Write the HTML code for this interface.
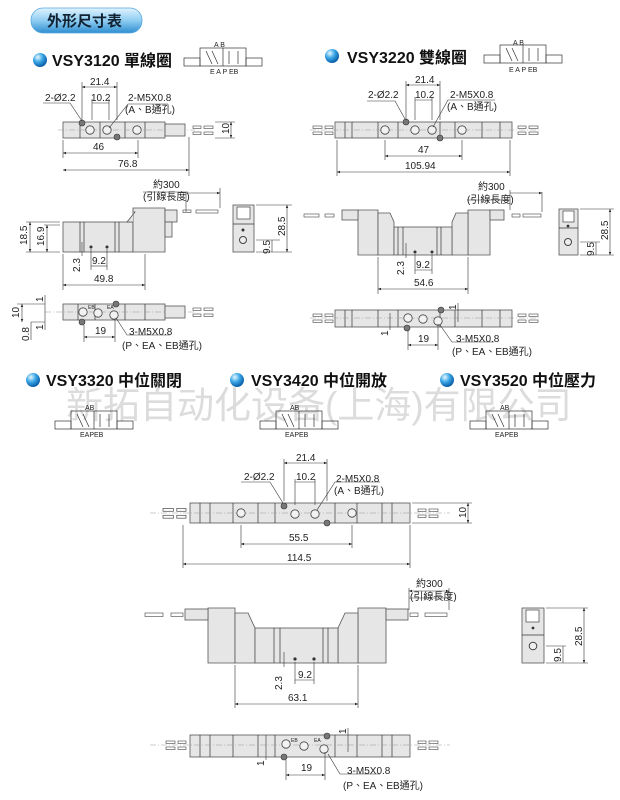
<!DOCTYPE html>
<html><head><meta charset="utf-8">
<style>
html,body{margin:0;padding:0;background:#fff;width:620px;height:800px;overflow:hidden}
svg{display:block}
text{font-family:"Liberation Sans","Noto Sans CJK TC",sans-serif;fill:#222}
.t{font-size:10px}
.h{font-size:16px;font-weight:bold;fill:#111}
.s{font-size:7px}
.b{fill:#e6e6e6;stroke:#555;stroke-width:.8}
.l{stroke:#333;stroke-width:.7;fill:none}
.d{stroke:#333;stroke-width:.6;fill:none}
.c{stroke:#999;stroke-width:.5;stroke-dasharray:6 2 1 2;fill:none}
</style></head><body>
<svg width="620" height="800" viewBox="0 0 620 800" xmlns="http://www.w3.org/2000/svg">
<defs>
<radialGradient id="ball" cx="35%" cy="30%" r="70%"><stop offset="0" stop-color="#e8f8ff"/><stop offset=".5" stop-color="#3aa6e6"/><stop offset="1" stop-color="#0b5fa8"/></radialGradient>
<linearGradient id="pill" x1="0" y1="0" x2="0" y2="1"><stop offset="0" stop-color="#dff2ff"/><stop offset=".5" stop-color="#8fcdf2"/><stop offset="1" stop-color="#2f8fd0"/></linearGradient>
<marker id="a" markerWidth="6" markerHeight="6" refX="5" refY="3" orient="auto-start-reverse"><path d="M0,1 L5,3 L0,5z" fill="#222"/></marker>
<g id="port"><circle r="4.2" fill="#f2f2f2" stroke="#444" stroke-width=".8"/></g>
<g id="pin"><circle r="3" fill="#777" stroke="#333" stroke-width=".6"/></g>
<g id="wireR"><rect x="0" y="-4" width="8" height="2.5" fill="#fff" stroke="#444" stroke-width=".6"/><rect x="11" y="-4" width="9" height="2.5" fill="#fff" stroke="#444" stroke-width=".6"/><rect x="0" y="2" width="8" height="2.5" fill="#fff" stroke="#444" stroke-width=".6"/><rect x="11" y="2" width="9" height="2.5" fill="#fff" stroke="#444" stroke-width=".6"/></g>
<g id="sym">
<rect x="0" y="10" width="16" height="8" class="l"/><rect x="16" y="0" width="46" height="18" class="l"/><rect x="62" y="10" width="16" height="8" class="l"/>
<line x1="39" y1="0" x2="39" y2="18" class="l"/><path d="M22,3 L28,16 M28,3 L34,16 M45,3 L45,16 M54,16 L54,3" class="l"/>
</g>
</defs>

<rect x="31" y="8" width="111" height="25" rx="12" fill="url(#pill)" stroke="#5aa9de" stroke-width=".8"/>
<text x="47" y="26" style="font-size:15px;font-weight:bold;fill:#123">外形尺寸表</text>

<text x="66" y="418" style="font-size:37px;fill:#dcdcdc;font-family:'Liberation Sans','Noto Sans CJK SC',sans-serif">新拓自动化设备(上海)有限公司</text>

<circle cx="40" cy="60" r="7" fill="url(#ball)"/>
<text x="52" y="66" class="h">VSY3120  單線圈</text>
<use href="#sym" x="184" y="48"/>
<text x="214" y="47" class="s">A B</text><text x="210" y="74" class="s">E A P EB</text>

<circle cx="332" cy="56" r="7" fill="url(#ball)"/>
<text x="347" y="63" class="h">VSY3220  雙線圈</text>
<use href="#sym" x="484" y="45"/>
<text x="513" y="45" class="s">A B</text><text x="509" y="72" class="s">E A P EB</text>

<circle cx="33" cy="380" r="7" fill="url(#ball)"/>
<text x="46" y="386" class="h">VSY3320  中位關閉</text>
<circle cx="237" cy="380" r="7" fill="url(#ball)"/>
<text x="251" y="386" class="h">VSY3420  中位開放</text>
<circle cx="447" cy="380" r="7" fill="url(#ball)"/>
<text x="460" y="386" class="h">VSY3520  中位壓力</text>
<g><use href="#sym" x="55" y="411"/><text x="85" y="410" class="s">AB</text><text x="80" y="437" class="s">EAPEB</text></g>
<g><use href="#sym" x="260" y="411"/><text x="290" y="410" class="s">AB</text><text x="285" y="437" class="s">EAPEB</text></g>
<g><use href="#sym" x="470" y="411"/><text x="500" y="410" class="s">AB</text><text x="495" y="437" class="s">EAPEB</text></g>

<rect x="63" y="122" width="102" height="16" class="b"/>
<path d="M80,122V138M100,122V138M125,122V138M145,122V138" class="l"/>
<line x1="58" y1="130" x2="195" y2="130" class="c"/>
<use href="#port" x="90" y="130"/><use href="#port" x="107" y="130"/><use href="#port" x="137" y="130"/>
<use href="#pin" x="82" y="123"/><use href="#pin" x="117" y="137"/>
<rect x="165" y="124" width="20" height="12" class="b"/>
<use href="#wireR" x="193" y="130"/>
<path d="M82,120V82M117,120V82" class="d"/><line x1="82" y1="87" x2="117" y2="87" class="d" marker-start="url(#a)" marker-end="url(#a)"/><text x="90" y="85" class="t">21.4</text>
<path d="M92,120V99M109,120V99" class="d"/><line x1="92" y1="103" x2="109" y2="103" class="d"/><text x="91" y="101" class="t">10.2</text>
<path d="M43,103H70L82,121" class="d"/><text x="45" y="101" class="t">2-Ø2.2</text>
<path d="M168,104H128L109,128" class="d"/><text x="128" y="101" class="t">2-M5X0.8</text><text x="125" y="113" class="t">(A、B通孔)</text>
<path d="M63,140V158M138,140V158M189,137V176" class="d"/>
<line x1="63" y1="153" x2="138" y2="153" class="d" marker-start="url(#a)" marker-end="url(#a)"/><text x="93" y="150" class="t">46</text>
<line x1="63" y1="170" x2="189" y2="170" class="d" marker-start="url(#a)" marker-end="url(#a)"/><text x="118" y="167" class="t">76.8</text>
<path d="M215,122H235M215,138H235" class="d"/><line x1="231" y1="122" x2="231" y2="138" class="d" marker-start="url(#a)" marker-end="url(#a)"/><text transform="translate(229,134) rotate(-90)" class="t">10</text>

<rect x="63" y="222" width="70" height="30" class="b"/>
<path d="M133,252V208H165V252Z" class="b"/>
<path d="M133,212H135L127,222H133" class="b"/>
<path d="M80,222V252M84,222V252M115,222V252M119,222V252" class="l"/>
<rect x="165" y="210" width="12" height="12" class="b"/><rect x="165" y="222" width="7" height="15" class="b"/>
<circle cx="91" cy="247" r="1.5" fill="#333"/><circle cx="107" cy="247" r="1.5" fill="#333"/>
<rect x="183" y="210" width="8" height="2.5" fill="#fff" stroke="#444" stroke-width=".6"/><rect x="196" y="210" width="22" height="3" fill="#fff" stroke="#444" stroke-width=".6"/>
<path d="M143,192H188M220,188V208M186,193V212" class="d"/><line x1="186" y1="193" x2="220" y2="193" class="d" marker-end="url(#a)"/>
<text x="153" y="188" class="t">約300</text><text x="143" y="200" class="t">(引線長度)</text>
<path d="M60,222H26M60,225H44M26,252H60" class="d"/>
<line x1="30" y1="222" x2="30" y2="252" class="d" marker-start="url(#a)" marker-end="url(#a)"/><text transform="translate(27,245) rotate(-90)" class="t">18.5</text>
<line x1="47" y1="225" x2="47" y2="252" class="d" marker-start="url(#a)" marker-end="url(#a)"/><text transform="translate(44,246) rotate(-90)" class="t">16.9</text>
<path d="M63,254V290M145,254V290M91,249V270M107,249V270" class="d"/>
<line x1="91" y1="266" x2="107" y2="266" class="d"/><text x="92" y="264" class="t">9.2</text>
<line x1="82" y1="242" x2="82" y2="256" class="d"/><text transform="translate(80,272) rotate(-90)" class="t">2.3</text>
<line x1="63" y1="285" x2="145" y2="285" class="d" marker-start="url(#a)" marker-end="url(#a)"/><text x="94" y="282" class="t">49.8</text>
<rect x="233" y="205" width="21" height="47" class="b"/><rect x="237" y="207" width="13" height="12" fill="#fff" stroke="#444" stroke-width=".7"/>
<line x1="233" y1="224" x2="254" y2="224" class="l"/><circle cx="243" cy="230" r="1.5" fill="#333"/><circle cx="243" cy="240" r="3.5" fill="#eee" stroke="#444"/>
<path d="M256,205H292M256,240H280M256,252H292" class="d"/>
<line x1="287" y1="205" x2="287" y2="252" class="d" marker-start="url(#a)" marker-end="url(#a)"/><text transform="translate(285,236) rotate(-90)" class="t">28.5</text>
<line x1="272" y1="240" x2="272" y2="252" class="d"/><text transform="translate(270,254) rotate(-90)" class="t">9.5</text>
<rect x="63" y="304" width="102" height="16" class="b"/>
<path d="M78,304V320M95,304V320M125,304V320M145,304V320" class="l"/>
<line x1="45" y1="312" x2="195" y2="312" class="c"/>
<use href="#port" x="83" y="312"/><use href="#port" x="98" y="313"/><use href="#port" x="114" y="315"/>
<use href="#pin" x="82" y="322"/><use href="#pin" x="116" y="304"/>
<text x="88" y="309" class="s" style="font-size:5px">EB</text><text x="107" y="309" class="s" style="font-size:5px">EA</text>
<rect x="165" y="306" width="20" height="12" class="b"/><use href="#wireR" x="193" y="312"/>
<path d="M17,304H45M31,322H45" class="d"/><line x1="22" y1="304" x2="22" y2="322" class="d" marker-start="url(#a)" marker-end="url(#a)"/><text transform="translate(19,318) rotate(-90)" class="t">10</text>
<line x1="31" y1="322" x2="31" y2="340" class="d"/><text transform="translate(29,341) rotate(-90)" class="t">0.8</text>
<line x1="45" y1="295" x2="45" y2="330" class="d"/><text transform="translate(43,302) rotate(-90)" class="t">1</text><text transform="translate(43,330) rotate(-90)" class="t">1</text>
<path d="M84,325V342M115,320V342" class="d"/><line x1="84" y1="337" x2="115" y2="337" class="d" marker-start="url(#a)" marker-end="url(#a)"/><text x="95" y="334" class="t">19</text>
<path d="M116,318L127,335H170" class="d"/><text x="129" y="335" class="t">3-M5X0.8</text><text x="122" y="349" class="t">(P、EA、EB通孔)</text>

<rect x="335" y="122" width="177" height="16" class="b"/>
<path d="M345,122V138M352,122V138M378,122V138M398,122V138M440,122V138M455,122V138M482,122V138M500,122V138" class="l"/>
<line x1="310" y1="130" x2="540" y2="130" class="c"/>
<use href="#port" x="385" y="130"/><use href="#port" x="415" y="130"/><use href="#port" x="432" y="130"/><use href="#port" x="462" y="130"/>
<use href="#pin" x="406" y="122"/><use href="#pin" x="440" y="138"/>
<g transform="translate(333,130) scale(-1,1)"><use href="#wireR"/></g><use href="#wireR" x="518" y="130"/>
<path d="M406,120V81M440,120V81" class="d"/><line x1="406" y1="85" x2="440" y2="85" class="d" marker-start="url(#a)" marker-end="url(#a)"/><text x="415" y="83" class="t">21.4</text>
<path d="M415,120V97M432,120V97" class="d"/><line x1="415" y1="100" x2="432" y2="100" class="d"/><text x="415" y="98" class="t">10.2</text>
<path d="M367,101H395L405,119" class="d"/><text x="368" y="98" class="t">2-Ø2.2</text>
<path d="M495,100H448L433,127" class="d"/><text x="450" y="98" class="t">2-M5X0.8</text><text x="447" y="110" class="t">(A、B通孔)</text>
<path d="M385,140V160M462,140V160M337,140V176M510,140V176" class="d"/>
<line x1="385" y1="156" x2="462" y2="156" class="d" marker-start="url(#a)" marker-end="url(#a)"/><text x="418" y="153" class="t">47</text>
<line x1="337" y1="172" x2="510" y2="172" class="d" marker-start="url(#a)" marker-end="url(#a)"/><text x="405" y="169" class="t">105.94</text>
<path d="M358,210H378V255H358Z" class="b"/><path d="M468,210H490V255H468Z" class="b"/>
<path d="M378,213H390L394,222V255H378Z" class="b"/><path d="M468,213H456L452,222V255H468Z" class="b"/>
<rect x="394" y="227" width="58" height="28" class="b"/>
<path d="M398,227V255M403,227V255M437,227V255M441,227V255" class="l"/>
<circle cx="415" cy="252" r="1.5" fill="#333"/><circle cx="432" cy="252" r="1.5" fill="#333"/>
<rect x="342" y="210" width="16" height="10" class="b"/><rect x="490" y="210" width="14" height="10" class="b"/>
<rect x="304" y="214" width="15" height="3" fill="#fff" stroke="#444" stroke-width=".6"/><rect x="325" y="214" width="9" height="3" fill="#fff" stroke="#444" stroke-width=".6"/>
<rect x="512" y="214" width="8" height="3" fill="#fff" stroke="#444" stroke-width=".6"/><rect x="523" y="214" width="18" height="3" fill="#fff" stroke="#444" stroke-width=".6"/>
<path d="M467,200H510M542,192V212M510,190V210" class="d"/><line x1="510" y1="193" x2="542" y2="193" class="d" marker-end="url(#a)"/>
<text x="478" y="190" class="t">約300</text><text x="467" y="203" class="t">(引線長度)</text>
<path d="M378,257V294M468,257V294M415,254V274M432,254V274" class="d"/>
<line x1="415" y1="270" x2="432" y2="270" class="d"/><text x="416" y="268" class="t">9.2</text>
<line x1="406" y1="243" x2="406" y2="258" class="d"/><text transform="translate(404,275) rotate(-90)" class="t">2.3</text>
<line x1="378" y1="289" x2="468" y2="289" class="d" marker-start="url(#a)" marker-end="url(#a)"/><text x="414" y="286" class="t">54.6</text>
<rect x="559" y="209" width="19" height="46" class="b"/><rect x="563" y="211" width="11" height="11" fill="#fff" stroke="#444" stroke-width=".7"/>
<line x1="559" y1="228" x2="578" y2="228" class="l"/><circle cx="568" cy="226" r="1.4" fill="#333"/><circle cx="568" cy="242" r="3.5" fill="#eee" stroke="#444"/>
<path d="M580,209H614M580,242H600M580,255H614" class="d"/>
<line x1="610" y1="209" x2="610" y2="255" class="d" marker-start="url(#a)" marker-end="url(#a)"/><text transform="translate(608,240) rotate(-90)" class="t">28.5</text>
<line x1="596" y1="242" x2="596" y2="255" class="d"/><text transform="translate(594,256) rotate(-90)" class="t">9.5</text>
<rect x="335" y="310" width="177" height="17" class="b"/>
<path d="M345,310V327M352,310V327M378,310V327M398,310V327M440,310V327M455,310V327M482,310V327M500,310V327" class="l"/>
<line x1="310" y1="318" x2="540" y2="318" class="c"/>
<use href="#port" x="408" y="318"/><use href="#port" x="423" y="319"/><use href="#port" x="438" y="321"/>
<use href="#pin" x="407" y="328"/><use href="#pin" x="441" y="310"/>
<g transform="translate(333,318) scale(-1,1)"><use href="#wireR"/></g><use href="#wireR" x="518" y="318"/>
<path d="M408,330V350M438,324V350" class="d"/><line x1="408" y1="345" x2="438" y2="345" class="d" marker-start="url(#a)" marker-end="url(#a)"/><text x="418" y="342" class="t">19</text>
<path d="M440,325L452,342H494" class="d"/><text x="456" y="342" class="t">3-M5X0.8</text><text x="452" y="355" class="t">(P、EA、EB通孔)</text>
<line x1="390" y1="313" x2="390" y2="330" class="d"/><text transform="translate(388,336) rotate(-90)" class="t">1</text>
<line x1="458" y1="303" x2="458" y2="322" class="d"/><text transform="translate(456,310) rotate(-90)" class="t">1</text>

<rect x="190" y="503" width="220" height="20" class="b"/>
<path d="M200,503V523M210,503V523M233,503V523M258,503V523M275,503V523M335,503V523M357,503V523M382,503V523M392,503V523" class="l"/>
<line x1="150" y1="513" x2="450" y2="513" class="c"/>
<use href="#port" x="241" y="513"/><use href="#port" x="295" y="514"/><use href="#port" x="315" y="514"/><use href="#port" x="352" y="513"/>
<use href="#pin" x="284" y="506"/><use href="#pin" x="327" y="523"/>
<g transform="translate(186,513) scale(-1,1)"><use href="#wireR" transform="scale(1.15)"/></g><use href="#wireR" x="418" y="513"/>
<path d="M284,501V459M327,501V459" class="d"/><line x1="284" y1="463" x2="327" y2="463" class="d" marker-start="url(#a)" marker-end="url(#a)"/><text x="296" y="461" class="t">21.4</text>
<path d="M295,505V479M315,505V479" class="d"/><line x1="295" y1="482" x2="315" y2="482" class="d"/><text x="296" y="480" class="t">10.2</text>
<path d="M241,482H270L283,503" class="d"/><text x="244" y="480" class="t">2-Ø2.2</text>
<path d="M380,482H335L317,510" class="d"/><text x="336" y="482" class="t">2-M5X0.8</text><text x="334" y="494" class="t">(A、B通孔)</text>
<path d="M241,525V548M352,525V548M183,525V568M410,525V568" class="d"/>
<line x1="241" y1="544" x2="352" y2="544" class="d" marker-start="url(#a)" marker-end="url(#a)"/><text x="289" y="541" class="t">55.5</text>
<line x1="183" y1="564" x2="410" y2="564" class="d" marker-start="url(#a)" marker-end="url(#a)"/><text x="287" y="561" class="t">114.5</text>
<path d="M412,503H472M412,523H472" class="d"/><line x1="468" y1="503" x2="468" y2="523" class="d" marker-start="url(#a)" marker-end="url(#a)"/><text transform="translate(466,518) rotate(-90)" class="t">10</text>
<path d="M208,608H235V663H208Z" class="b"/><path d="M358,608H386V663H358Z" class="b"/>
<path d="M235,613H248L255,628V663H235Z" class="b"/><path d="M358,613H345L338,628V663H358Z" class="b"/>
<rect x="255" y="628" width="83" height="35" class="b"/>
<path d="M274,628V663M280,628V663M323,628V663M328,628V663" class="l"/>
<circle cx="295" cy="659" r="1.6" fill="#333"/><circle cx="314" cy="659" r="1.6" fill="#333"/>
<rect x="185" y="609" width="23" height="11" class="b"/><rect x="386" y="609" width="22" height="11" class="b"/>
<rect x="145" y="613" width="18" height="3.5" fill="#fff" stroke="#444" stroke-width=".6"/><rect x="171" y="613" width="12" height="3.5" fill="#fff" stroke="#444" stroke-width=".6"/>
<rect x="410" y="613" width="8" height="3.5" fill="#fff" stroke="#444" stroke-width=".6"/><rect x="425" y="613" width="22" height="3.5" fill="#fff" stroke="#444" stroke-width=".6"/>
<path d="M409,598H450M449,588V610M409,588V610" class="d"/><line x1="409" y1="591" x2="449" y2="591" class="d" marker-start="url(#a)" marker-end="url(#a)"/>
<text x="416" y="587" class="t">約300</text><text x="410" y="600" class="t">(引線長度)</text>
<path d="M235,665V708M358,665V708M295,662V684M314,662V684" class="d"/>
<line x1="295" y1="680" x2="314" y2="680" class="d"/><text x="298" y="678" class="t">9.2</text>
<line x1="284" y1="652" x2="284" y2="667" class="d"/><text transform="translate(282,690) rotate(-90)" class="t">2.3</text>
<line x1="235" y1="704" x2="358" y2="704" class="d" marker-start="url(#a)" marker-end="url(#a)"/><text x="288" y="701" class="t">63.1</text>
<rect x="522" y="608" width="22" height="55" class="b"/><rect x="526" y="610" width="13" height="12" fill="#fff" stroke="#444" stroke-width=".7"/>
<line x1="522" y1="635" x2="544" y2="635" class="l"/><circle cx="533" cy="628" r="1.4" fill="#333"/><circle cx="533" cy="646" r="3.8" fill="#eee" stroke="#444"/>
<path d="M546,608H588M546,646H566M546,663H588" class="d"/>
<line x1="584" y1="608" x2="584" y2="663" class="d" marker-start="url(#a)" marker-end="url(#a)"/><text transform="translate(582,646) rotate(-90)" class="t">28.5</text>
<line x1="563" y1="646" x2="563" y2="663" class="d"/><text transform="translate(561,662) rotate(-90)" class="t">9.5</text>
<rect x="190" y="735" width="220" height="22" class="b"/>
<path d="M200,735V757M210,735V757M233,735V757M258,735V757M275,735V757M335,735V757M357,735V757M382,735V757M392,735V757" class="l"/>
<line x1="150" y1="745" x2="450" y2="745" class="c"/>
<use href="#port" x="286" y="744"/><use href="#port" x="304" y="746"/><use href="#port" x="324" y="749"/>
<use href="#pin" x="284" y="757"/><use href="#pin" x="327" y="736"/>
<text x="291" y="742" class="s" style="font-size:5px">EB</text><text x="314" y="742" class="s" style="font-size:5px">EA</text>
<g transform="translate(186,745) scale(-1,1)"><use href="#wireR"/></g><use href="#wireR" x="418" y="745"/>
<path d="M286,760V780M325,752V780" class="d"/><line x1="286" y1="775" x2="325" y2="775" class="d" marker-start="url(#a)" marker-end="url(#a)"/><text x="301" y="771" class="t">19</text>
<path d="M328,754L340,774H380" class="d"/><text x="347" y="774" class="t">3-M5X0.8</text><text x="343" y="789" class="t">(P、EA、EB通孔)</text>
<line x1="266" y1="735" x2="266" y2="760" class="d"/><text transform="translate(264,766) rotate(-90)" class="t">1</text>
<line x1="348" y1="728" x2="348" y2="752" class="d"/><text transform="translate(346,734) rotate(-90)" class="t">1</text>
</svg>
</body></html>
